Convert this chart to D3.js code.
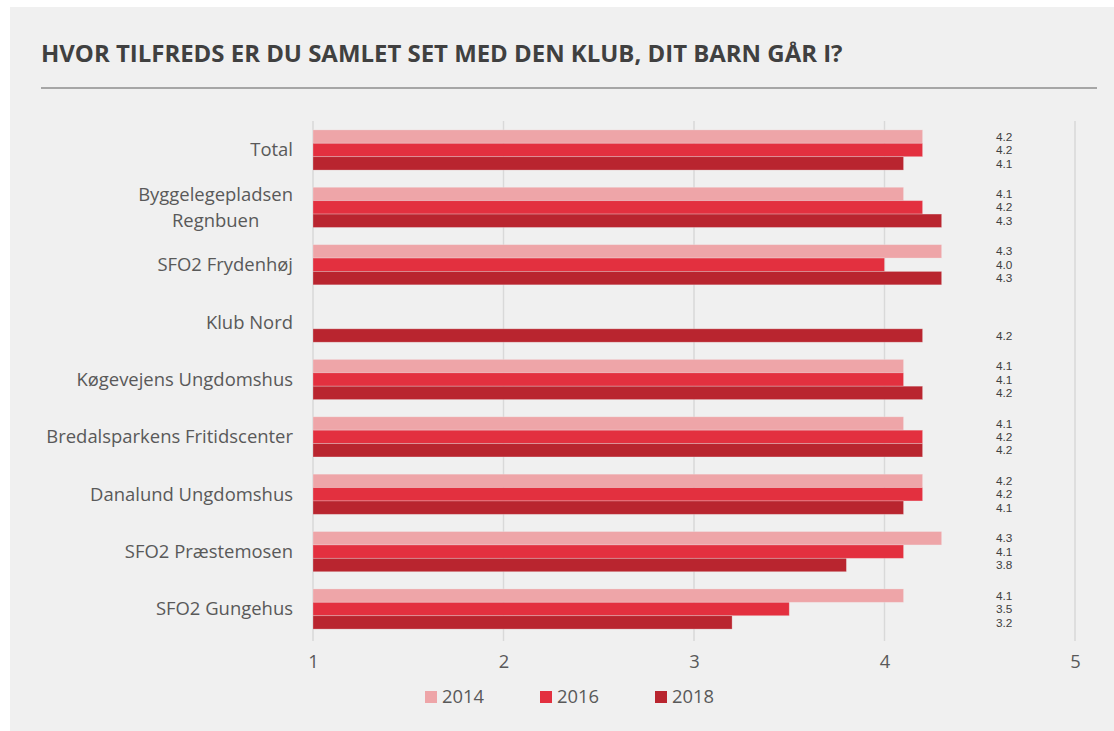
<!DOCTYPE html>
<html><head><meta charset="utf-8">
<script src="https://cdn.jsdelivr.net/npm/d3@7"></script>
<style>html,body{margin:0;padding:0;background:#fff;} text{font-family:"Open Sans",sans-serif;}</style>
</head><body>
<svg id="c" width="1114" height="731"></svg>
<script>
const categories = ["Total","Byggelegepladsen Regnbuen","SFO2 Frydenhøj","Klub Nord","Køgevejens Ungdomshus","Bredalsparkens Fritidscenter","Danalund Ungdomshus","SFO2 Præstemosen","SFO2 Gungehus"];
const seriesNames = ["2014","2016","2018"];
const values2014 = [4.2,4.1,4.3,null,4.1,4.1,4.2,4.3,4.1];
const values2016 = [4.2,4.2,4.0,null,4.1,4.2,4.2,4.1,3.5];
const values2018 = [4.1,4.3,4.3,4.2,4.2,4.2,4.1,3.8,3.2];
const xTicks = [1,2,3,4,5];
const colors = ["#eea5a8","#e3303f","#b9252f"];
const title = "HVOR TILFREDS ER DU SAMLET SET MED DEN KLUB, DIT BARN GÅR I?";

const series = [values2014, values2016, values2018];
const svg = d3.select("#c");

function fitSize(str, weight, target) {
  const t = svg.append("text").attr("font-size", 20).attr("font-weight", weight).text(str);
  const w = t.node().getComputedTextLength();
  t.remove();
  return 20 * target / w;
}

svg.append("rect").attr("x",10).attr("y",7).attr("width",1104).attr("height",724).attr("fill","#f0f0f0");

// title
svg.append("text").attr("x",41).attr("y",62).attr("font-weight","bold")
  .attr("font-size", fitSize(title,"bold",802)).attr("fill","#404040").text(title);
svg.append("line").attr("x1",41).attr("x2",1097).attr("y1",88).attr("y2",88)
  .attr("stroke","#a6a6a6").attr("stroke-width",2);

const x = d3.scaleLinear().domain([1,5]).range([313,1075]);
const y = d3.scaleBand().domain(categories).range([121.3,637.7]).paddingInner(0.3).paddingOuter(0.15);
const yi = d3.scaleBand().domain(seriesNames).range([0,y.bandwidth()]);

// gridlines
svg.append("g").selectAll("line").data(xTicks).join("line")
  .attr("x1",d=>x(d)).attr("x2",d=>x(d)).attr("y1",121).attr("y2",641)
  .attr("stroke","#d9d9d9").attr("stroke-width",1.5);

// axis tick labels
const tickSize = fitSize("2014","normal",42);
const xAxis = d3.axisBottom(x).tickValues(xTicks).tickFormat(d3.format("d")).tickSize(0).tickPadding(0);
const ax = svg.append("g").attr("transform","translate(0,655)").call(xAxis);
ax.select(".domain").remove();
ax.selectAll("text").attr("font-size",tickSize).attr("fill","#595959").attr("font-family","'Open Sans',sans-serif");

// bars
const groups = svg.append("g").selectAll("g").data(categories).join("g")
  .attr("transform",d=>`translate(0,${y(d)})`);
groups.selectAll("rect").data((c,i)=>seriesNames.map((s,j)=>({s,j,v:series[j][i]})).filter(d=>d.v!=null))
  .join("rect")
  .attr("x",x(1)).attr("y",d=>yi(d.s)).attr("height",yi.bandwidth())
  .attr("width",d=>x(d.v)-x(1)).attr("fill",d=>colors[d.j])
  .attr("stroke","#f0f0f0").attr("stroke-opacity",0.35).attr("stroke-width",0.8);

// value labels
const valSize = 11.8;
groups.selectAll("text.v").data((c,i)=>seriesNames.map((s,j)=>({s,j,v:series[j][i]})).filter(d=>d.v!=null))
  .join("text").attr("class","v")
  .attr("x",996).attr("y",d=>yi(d.s)+yi.bandwidth()/2).attr("dy","0.35em")
  .style("font-family","'Liberation Sans',Arial,sans-serif")
  .attr("font-size",valSize).attr("fill","#404040").text(d=>d3.format(".1f")(d.v));

// category labels
const catSize = fitSize("Bredalsparkens Fritidscenter","normal",247);
const wrapMap = {"Byggelegepladsen Regnbuen":["Byggelegepladsen","Regnbuen"]};
categories.forEach(c=>{
  const lines = wrapMap[c] || [c];
  const cy = y(c)+y.bandwidth()/2;
  const lh = 26;
  if (lines.length===1) {
    svg.append("text").attr("x",293).attr("y",cy).attr("dy","0.35em").attr("text-anchor","end")
      .attr("font-size",catSize).attr("fill","#595959").text(c);
  } else {
    const tmp = svg.append("text").attr("font-size",catSize).text(lines[0]);
    const w = tmp.node().getComputedTextLength(); tmp.remove();
    const cx = 293 - w/2;
    lines.forEach((l,k)=>{
      svg.append("text").attr("x",cx).attr("y",cy+(k-(lines.length-1)/2)*lh).attr("dy","0.35em")
        .attr("text-anchor","middle").attr("font-size",catSize).attr("fill","#595959").text(l);
    });
  }
});

// legend
const legX = [425,540,655];
const leg = svg.append("g").selectAll("g").data(seriesNames).join("g")
  .attr("transform",(d,i)=>`translate(${legX[i]},697)`);
leg.append("rect").attr("x",0).attr("y",-6).attr("width",12).attr("height",12).attr("fill",(d,i)=>colors[i]);
leg.append("text").attr("x",17).attr("y",0).attr("dy","0.35em").attr("font-size",tickSize).attr("fill","#595959").text(d=>d);
</script>
</body></html>
